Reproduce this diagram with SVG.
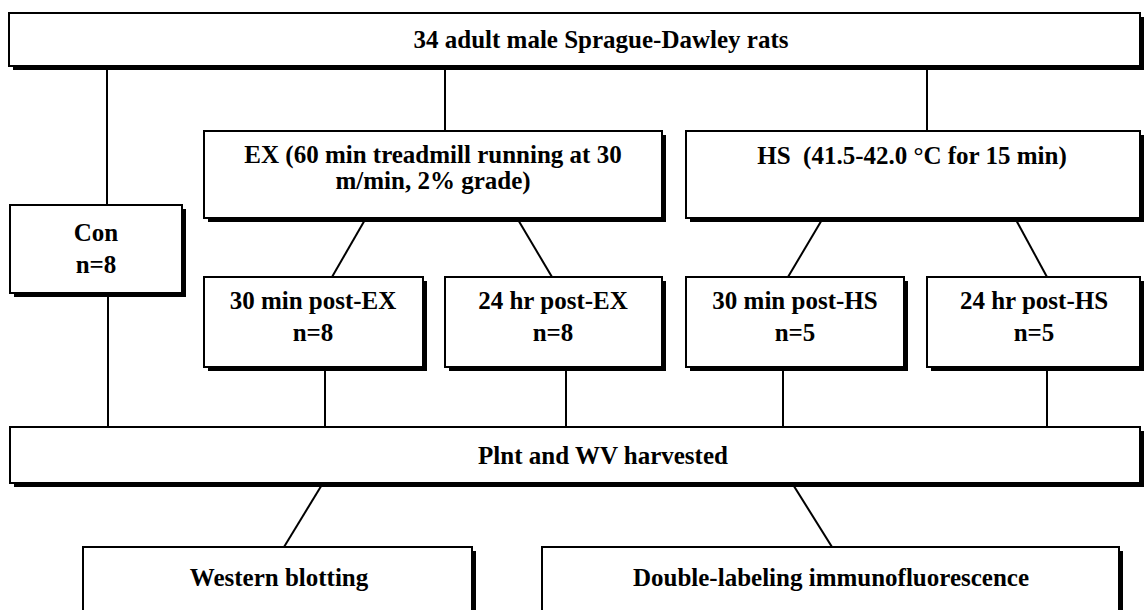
<svg xmlns="http://www.w3.org/2000/svg" width="1144" height="610" viewBox="0 0 1144 610">
<style>
.box{fill:#fff;stroke:#000;stroke-width:2}
.sh{fill:#000}
.c{stroke:#000;stroke-width:2;fill:none}
</style>
<rect width="1144" height="610" fill="#fff"/>
<g id="connectors">
<line class="c" x1="107" y1="66" x2="107" y2="205"/>
<line class="c" x1="445" y1="66" x2="445" y2="131"/>
<line class="c" x1="927" y1="66" x2="927" y2="131"/>
<line class="c" x1="366" y1="218" x2="332" y2="277"/>
<line class="c" x1="517" y1="218" x2="552" y2="277"/>
<line class="c" x1="823" y1="218" x2="788" y2="277"/>
<line class="c" x1="1015" y1="218" x2="1047" y2="277"/>
<line class="c" x1="108" y1="293" x2="108" y2="427"/>
<line class="c" x1="325" y1="367" x2="325" y2="427"/>
<line class="c" x1="566" y1="367" x2="566" y2="427"/>
<line class="c" x1="783" y1="367" x2="783" y2="427"/>
<line class="c" x1="1047" y1="367" x2="1047" y2="427"/>
<line class="c" x1="323" y1="483" x2="284" y2="547"/>
<line class="c" x1="792" y1="483" x2="832" y2="547"/>
</g>
<g font-family="Liberation Serif, Times New Roman, DejaVu Serif, serif" font-weight="bold" font-size="25" fill="#000" text-anchor="middle">
<g id="top">
<rect class="sh" x="13" y="17" width="1131" height="53"/>
<rect class="box" x="9" y="13" width="1131" height="53"/>
<text x="601" y="48">34 adult male Sprague-Dawley rats</text>
</g>
<g id="con">
<rect class="sh" x="14" y="209" width="172" height="88"/>
<rect class="box" x="10" y="205" width="172" height="88"/>
<text x="96" y="241">Con</text>
<text x="96" y="273">n=8</text>
</g>
<g id="ex">
<rect class="sh" x="208" y="135" width="458" height="87"/>
<rect class="box" x="204" y="131" width="458" height="87"/>
<text x="433" y="163">EX (60 min treadmill running at 30</text>
<text x="433" y="189">m/min, 2% grade)</text>
</g>
<g id="hs">
<rect class="sh" x="690" y="135" width="454" height="87"/>
<rect class="box" x="686" y="131" width="454" height="87"/>
<text x="912" y="164">HS&#160; (41.5-42.0 °C for 15 min)</text>
</g>
<g id="ex30">
<rect class="sh" x="208" y="281" width="219" height="90"/>
<rect class="box" x="204" y="277" width="219" height="90"/>
<text x="313" y="309">30 min post-EX</text>
<text x="313" y="341">n=8</text>
</g>
<g id="ex24">
<rect class="sh" x="449" y="281" width="217" height="90"/>
<rect class="box" x="445" y="277" width="217" height="90"/>
<text x="553" y="309">24 hr post-EX</text>
<text x="553" y="341">n=8</text>
</g>
<g id="hs30">
<rect class="sh" x="690" y="281" width="218" height="90"/>
<rect class="box" x="686" y="277" width="218" height="90"/>
<text x="795" y="309">30 min post-HS</text>
<text x="795" y="341">n=5</text>
</g>
<g id="hs24">
<rect class="sh" x="931" y="281" width="213" height="90"/>
<rect class="box" x="927" y="277" width="213" height="90"/>
<text x="1034" y="309">24 hr post-HS</text>
<text x="1034" y="341">n=5</text>
</g>
<g id="harvest">
<rect class="sh" x="14" y="431" width="1130" height="56"/>
<rect class="box" x="10" y="427" width="1130" height="56"/>
<text x="603" y="464">Plnt and WV harvested</text>
</g>
<g id="western">
<rect class="sh" x="87" y="551" width="389" height="70"/>
<rect class="box" x="83" y="547" width="389" height="70"/>
<text x="279" y="586">Western blotting</text>
</g>
<g id="double">
<rect class="sh" x="546" y="551" width="577" height="70"/>
<rect class="box" x="542" y="547" width="577" height="70"/>
<text x="831" y="586">Double-labeling immunofluorescence</text>
</g>
</g>
</svg>
